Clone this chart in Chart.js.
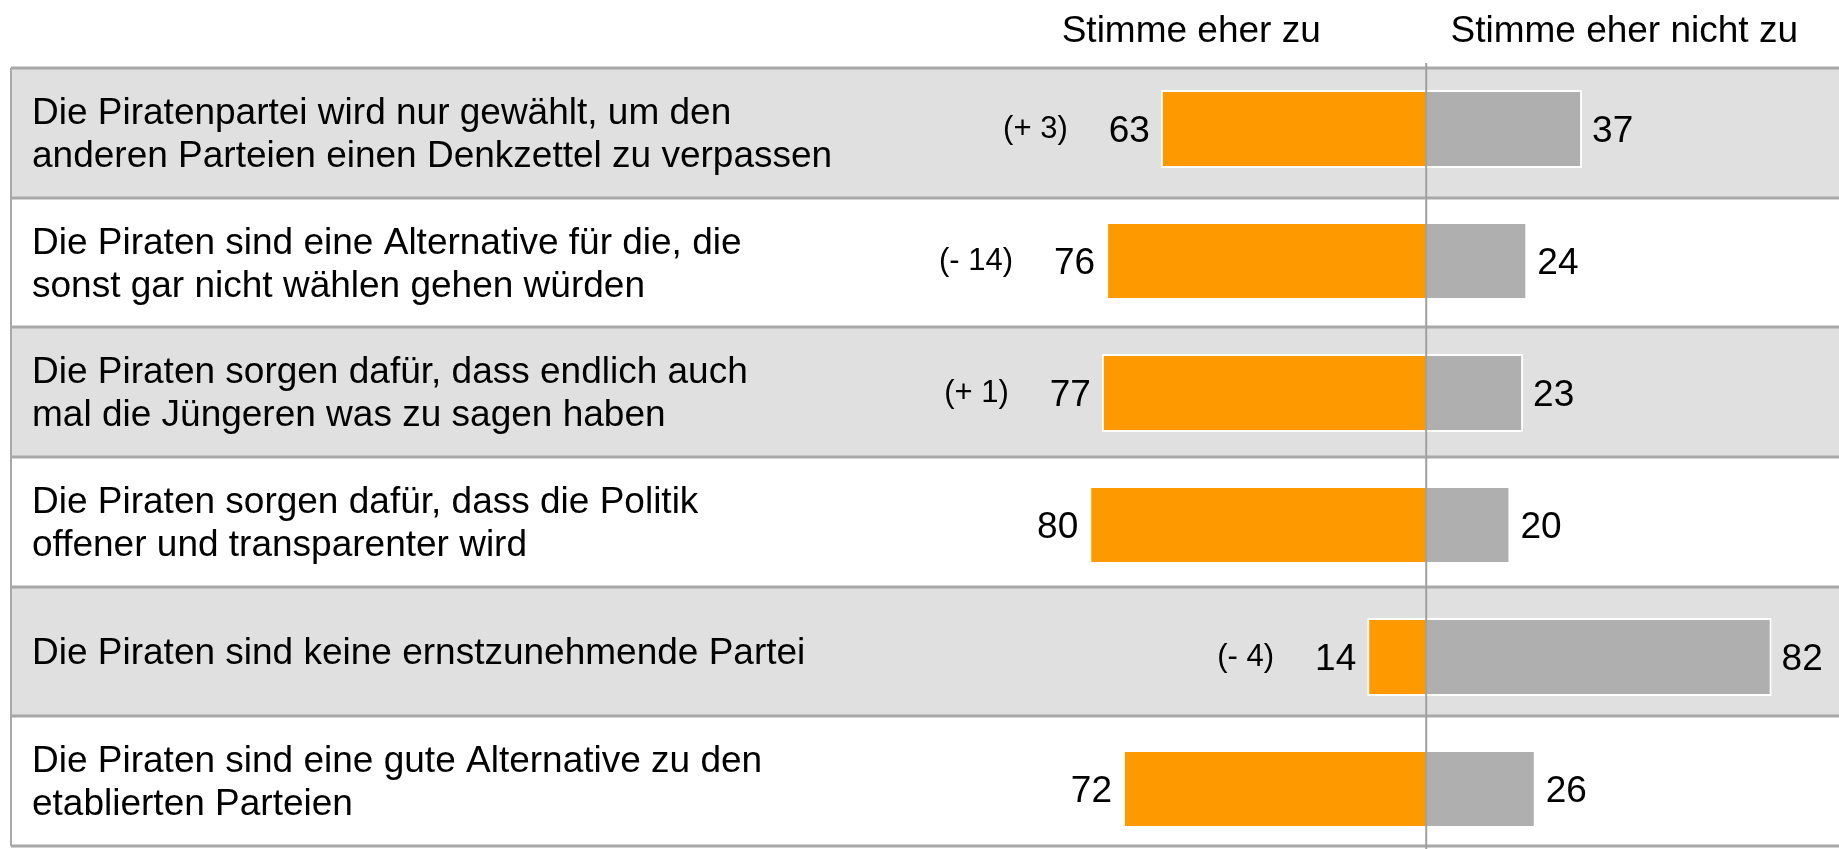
<!DOCTYPE html>
<html lang="de">
<head>
<meta charset="UTF-8" />
<title>Piratenpartei – Zustimmung</title>
<style>
  body { margin: 0; background: #fff; }
  #chart { display: block; }
</style>
</head>
<body>
<canvas id="chart" width="1839" height="849"></canvas>
<script src="https://cdn.jsdelivr.net/npm/chart.js"></script>
<script>
  // Aussagen (mehrzeilig), Werte in Prozent
  const categories = [
    ['Die Piratenpartei wird nur gewählt, um den', 'anderen Parteien einen Denkzettel zu verpassen'],
    ['Die Piraten sind eine Alternative für die, die', 'sonst gar nicht wählen gehen würden'],
    ['Die Piraten sorgen dafür, dass endlich auch', 'mal die Jüngeren was zu sagen haben'],
    ['Die Piraten sorgen dafür, dass die Politik', 'offener und transparenter wird'],
    ['Die Piraten sind keine ernstzunehmende Partei'],
    ['Die Piraten sind eine gute Alternative zu den', 'etablierten Parteien']
  ];
  const seriesNames = ['Stimme eher zu', 'Stimme eher nicht zu'];
  const agree = [63, 76, 77, 80, 14, 72];
  const disagree = [37, 24, 23, 20, 82, 26];
  // Veränderung zur Vorwelle (null = keine Angabe)
  const change = [3, -14, 1, null, -4, null];

  const FONT = '"Liberation Sans", Arial, sans-serif';
  // table frame (rows are a bit tighter than the bar pitch in the original)
  const TABLE_TOP = 68;
  const TABLE_BOTTOM = 846;

  function fmtChange(c) {
    return '(' + (c > 0 ? '+' : '-') + ' ' + Math.abs(c) + ')';
  }

  const tablePlugin = {
    id: 'table',
    beforeDatasetsDraw(chart) {
      const { ctx, chartArea: a } = chart;
      const step = (TABLE_BOTTOM - TABLE_TOP) / categories.length;
      ctx.save();
      // row bands
      categories.forEach((c, i) => {
        if (i % 2 === 0) {
          ctx.fillStyle = '#e0e0e0';
          ctx.fillRect(a.left, TABLE_TOP + i * step, a.right - a.left, step);
        }
      });
      // row lines
      ctx.strokeStyle = '#a8a8a8';
      ctx.lineWidth = 3;
      for (let i = 0; i <= categories.length; i++) {
        const y = Math.round(TABLE_TOP + i * step);
        ctx.beginPath();
        ctx.moveTo(a.left, y);
        ctx.lineTo(a.right, y);
        ctx.stroke();
      }
      ctx.lineWidth = 2;
      ctx.beginPath();
      ctx.moveTo(a.left, TABLE_TOP);
      ctx.lineTo(a.left, TABLE_BOTTOM);
      ctx.stroke();
      ctx.restore();
    },
    afterDatasetsDraw(chart) {
      const { ctx, chartArea: a } = chart;
      const x0 = chart.scales.x.getPixelForValue(0);
      const yScale = chart.scales.y;
      const step = (TABLE_BOTTOM - TABLE_TOP) / categories.length;
      ctx.save();

      // centre line
      ctx.strokeStyle = '#a0a0a0';
      ctx.lineWidth = 2;
      ctx.beginPath();
      ctx.moveTo(x0, TABLE_TOP - 5);
      ctx.lineTo(x0, chart.height);
      ctx.stroke();

      ctx.fillStyle = '#000';

      // headers
      ctx.font = '37px ' + FONT;
      ctx.textAlign = 'center';
      ctx.textBaseline = 'alphabetic';
      ctx.fillText(seriesNames[0], x0 - 235, 42);
      ctx.fillText(seriesNames[1], x0 + 198, 42);

      // category labels, centred in their table row
      ctx.textAlign = 'left';
      categories.forEach((lines, i) => {
        const yc = TABLE_TOP + (i + 0.5) * step;
        lines.forEach((ln, j) => {
          const y = yc + (j - (lines.length - 1) / 2) * 43 + 12.5;
          ctx.fillText(ln, a.left + 21, y);
        });
      });

      // value labels and changes
      const mAgree = chart.getDatasetMeta(0);
      const mDis = chart.getDatasetMeta(1);
      categories.forEach((c, i) => {
        const yc = yScale.getPixelForValue(i);
        const bl = mAgree.data[i];
        const br = mDis.data[i];
        ctx.font = '37px ' + FONT;
        ctx.textAlign = 'right';
        const txtL = String(agree[i]);
        const xl = bl.x - 11;
        ctx.fillText(txtL, xl, yc + 13);
        ctx.textAlign = 'left';
        ctx.fillText(String(disagree[i]), br.x + 10, yc + 13);
        if (change[i] !== null) {
          const wl = ctx.measureText(txtL).width;
          ctx.font = '31px ' + FONT;
          ctx.textAlign = 'right';
          ctx.fillText(fmtChange(change[i]), xl - wl - 41, yc + 9);
        }
      });
      ctx.restore();
    }
  };

  new Chart(document.getElementById('chart'), {
    type: 'bar',
    data: {
      labels: categories,
      datasets: [
        {
          label: seriesNames[0],
          data: agree.map(v => -v),
          backgroundColor: '#fe9a00',
          borderColor: '#ffffff',
          borderWidth: 2,
          clip: false
        },
        {
          label: seriesNames[1],
          data: disagree,
          backgroundColor: '#afafaf',
          borderColor: '#ffffff',
          borderWidth: 2,
          clip: false
        }
      ]
    },
    options: {
      indexAxis: 'y',
      responsive: false,
      animation: false,
      layout: { padding: { left: 11, right: 0, top: 129, bottom: 60 } },
      datasets: { bar: { categoryPercentage: 1, barPercentage: 0.59 } },
      scales: {
        x: { stacked: true, min: -336, max: 98, display: false },
        y: { stacked: true, offset: false, display: false }
      },
      plugins: {
        legend: { display: false },
        tooltip: { enabled: false }
      }
    },
    plugins: [tablePlugin]
  });
</script>
</body>
</html>
